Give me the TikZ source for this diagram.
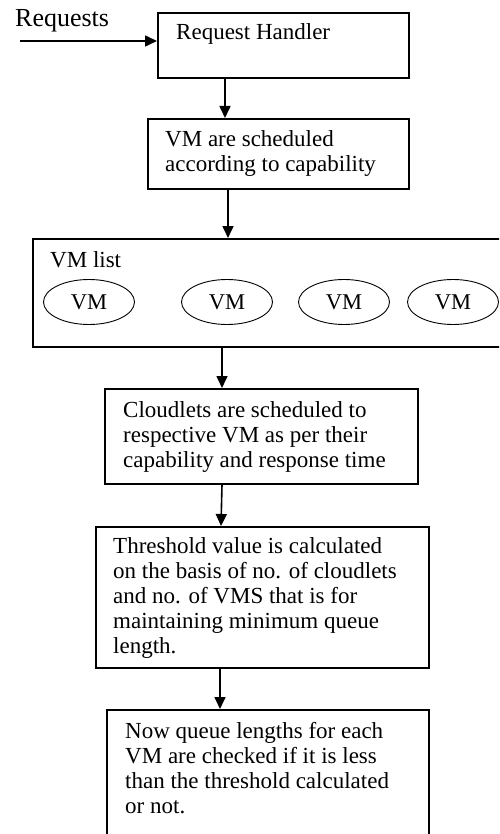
\documentclass[tikz,border=0pt]{standalone}
\usepackage{fontspec}
\setmainfont{Liberation Serif}
\usetikzlibrary{arrows.meta,shapes.geometric}
\begin{document}
\begin{tikzpicture}[x=1pt,y=-1pt,
  box/.style={draw,line width=1.6pt,anchor=north west,inner sep=0pt},
  txt/.style={anchor=base west,inner sep=0pt,align=left,font=\fontsize{23}{25}\selectfont},
  vm/.style={draw,ellipse,line width=0.9pt,minimum width=91pt,minimum height=45pt,inner sep=0pt,font=\fontsize{22.5}{25}\selectfont},
  arr/.style={line width=1.6pt,-{Triangle[length=12pt,width=11pt]}}]
\useasboundingbox (0,0) rectangle (499,834);
\clip (0,0) rectangle (499,834);
% boxes
\node[box,minimum width=251pt,minimum height=65pt] (rh) at (157,12) {};
\node[box,minimum width=261pt,minimum height=70pt] (vms) at (147,118) {};
\node[box,minimum width=480pt,minimum height=108pt] (list) at (32,238) {};
\node[box,minimum width=313pt,minimum height=95pt] (cl) at (104,388) {};
\node[box,minimum width=333pt,minimum height=141pt] (th) at (95,526) {};
\node[box,minimum width=322pt,minimum height=140pt] (now) at (106,709) {};
% texts (anchored at the baseline of the last line)
\node[txt,font=\fontsize{26}{25}\selectfont] (treq) at (15,27) {Requests};
\node[txt] (trh) at (176,40) {Request Handler};
\node[txt] (tvms) at (165,172) {VM are scheduled\\according to capability};
\node[txt] (tlist) at (50,267) {VM list};
\node[txt] (tcl) at (123,467) {Cloudlets are scheduled to\\respective VM as per their\\capability and response time};
\node[txt] (tth) at (113,653) {Threshold value is calculated\\on the basis of no. of cloudlets\\and no. of VMS that is for\\maintaining minimum queue\\length.};
\node[txt] (tnow) at (125,813) {Now queue lengths for each\\VM are checked if it is less\\than the threshold calculated\\or not.};
% VMs
\node[vm] (vm1) at (89,302) {VM};
\node[vm] (vm2) at (227,302) {VM};
\node[vm] (vm3) at (344,302) {VM};
\node[vm] (vm4) at (453,302) {VM};
% arrows
\coordinate (rstart) at (20,41);
\draw[arr] (rstart) -- (rh.west |- rstart);
\draw[arr] ([xshift=68pt]rh.south west) -- ([xshift=78pt]vms.north west);
\draw[arr] ([xshift=81pt]vms.south west) -- ([xshift=196pt]list.north west);
\draw[arr] ([xshift=190pt]list.south west) -- ([xshift=118pt]cl.north west);
\draw[arr] ([xshift=118pt]cl.south west) -- ([xshift=126pt]th.north west);
\draw[arr] ([xshift=125pt]th.south west) -- ([xshift=114pt]now.north west);
\end{tikzpicture}
\end{document}
